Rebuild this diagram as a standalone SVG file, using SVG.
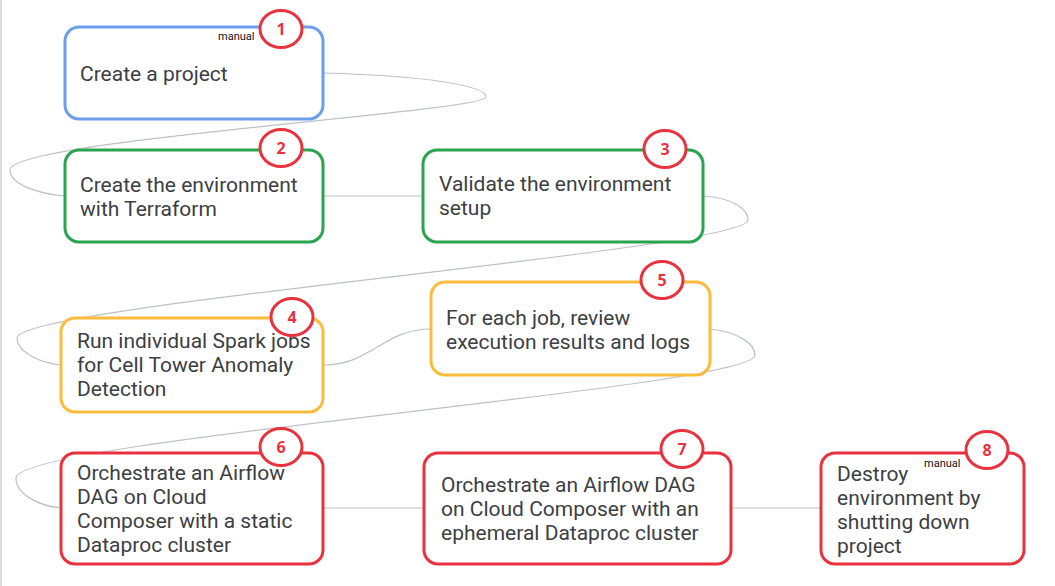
<svg xmlns="http://www.w3.org/2000/svg" width="1055" height="586" viewBox="0 0 1055 586">
<style>
.node{fill:#fff;stroke-width:3}
.blue{stroke:#6d9eeb}
.green{stroke:#2aa44f}
.yellow{stroke:#fbbc3c}
.red{stroke:#e8333f}
.t{font-family:Roboto,"Liberation Sans",sans-serif;font-size:21px;fill:#3c4043}
.badge{fill:#fff;stroke:#e8333f;stroke-width:3}
.num{font-family:"Open Sans","Liberation Sans",sans-serif;font-size:16px;font-weight:bold;fill:#e8333f;text-anchor:middle}
.man{font-family:Roboto,"Liberation Sans",sans-serif;font-size:11px;fill:#111}
.conn{fill:none;stroke:#bdc1c6;stroke-width:1.2}
</style>
<rect width="1055" height="586" fill="#fff"/>
<line x1="1" y1="0" x2="1" y2="586" stroke="#cfcfcf" stroke-width="1.5"/>
<g id="connectors">
<path class="conn" d="M323,73 C430,76 486,86 486,97 C486,112 10,140 10,170 C10,185 40,194 65,196"/>
<path class="conn" d="M323,196 L423,196"/>
<path class="conn" d="M703,196 C735,198 748,210 748,220 C748,250 17,305 17,338 C17,352 40,363 61,365"/>
<path class="conn" d="M323,365 C372,365 383,329 431,329"/>
<path class="conn" d="M710,329 C740,332 755,345 755,355 C755,388 16,440 16,478 C16,495 40,506 61,508"/>
<path class="conn" d="M323,508 L424,508"/>
<path class="conn" d="M731,508 L821,508"/>
</g>
<g id="node1">
<rect class="node blue" x="65" y="27" width="258" height="92" rx="14"/>
<text class="t" x="80" y="81">Create a project</text>
<text class="man" x="218" y="40">manual</text>
<ellipse class="badge" cx="281" cy="29" rx="21" ry="18.5"/>
<text class="num" x="281" y="35">1</text>
</g>
<g id="node2">
<rect class="node green" x="65" y="150" width="258" height="92" rx="14"/>
<text class="t" x="80" y="192">Create the environment</text>
<text class="t" x="80" y="216">with Terraform</text>
<ellipse class="badge" cx="281" cy="148" rx="21" ry="18.5"/>
<text class="num" x="281" y="154">2</text>
</g>
<g id="node3">
<rect class="node green" x="423" y="150" width="280" height="92" rx="14"/>
<text class="t" x="439" y="191">Validate the environment</text>
<text class="t" x="439" y="215">setup</text>
<ellipse class="badge" cx="665" cy="149" rx="21" ry="18.5"/>
<text class="num" x="665" y="155">3</text>
</g>
<g id="node4">
<rect class="node yellow" x="61" y="318" width="262" height="94" rx="14"/>
<text class="t" x="77" y="348">Run individual Spark jobs</text>
<text class="t" x="77" y="372">for Cell Tower Anomaly</text>
<text class="t" x="77" y="396">Detection</text>
<ellipse class="badge" cx="292" cy="317" rx="21" ry="18.5"/>
<text class="num" x="292" y="323">4</text>
</g>
<g id="node5">
<rect class="node yellow" x="431" y="282" width="279" height="93" rx="14"/>
<text class="t" x="446" y="325">For each job, review</text>
<text class="t" x="446" y="349">execution results and logs</text>
<ellipse class="badge" cx="662" cy="280" rx="21" ry="18.5"/>
<text class="num" x="662" y="286">5</text>
</g>
<g id="node6">
<rect class="node red" x="61" y="453" width="262" height="111" rx="14"/>
<text class="t" x="77" y="480">Orchestrate an Airflow</text>
<text class="t" x="77" y="504">DAG on Cloud</text>
<text class="t" x="77" y="528">Composer with a static</text>
<text class="t" x="77" y="552">Dataproc cluster</text>
<ellipse class="badge" cx="281" cy="447" rx="21" ry="18.5"/>
<text class="num" x="281" y="453">6</text>
</g>
<g id="node7">
<rect class="node red" x="424" y="453" width="307" height="111" rx="14"/>
<text class="t" x="441" y="492">Orchestrate an Airflow DAG</text>
<text class="t" x="441" y="516">on Cloud Composer with an</text>
<text class="t" x="441" y="540">ephemeral Dataproc cluster</text>
<ellipse class="badge" cx="682" cy="449" rx="21" ry="18.5"/>
<text class="num" x="682" y="455">7</text>
</g>
<g id="node8">
<rect class="node red" x="821" y="453" width="203" height="111" rx="14"/>
<text class="t" x="837" y="481">Destroy</text>
<text class="t" x="837" y="505">environment by</text>
<text class="t" x="837" y="529">shutting down</text>
<text class="t" x="837" y="553">project</text>
<text class="man" x="924" y="467">manual</text>
<ellipse class="badge" cx="987" cy="450" rx="21" ry="18.5"/>
<text class="num" x="987" y="456">8</text>
</g>
</svg>
